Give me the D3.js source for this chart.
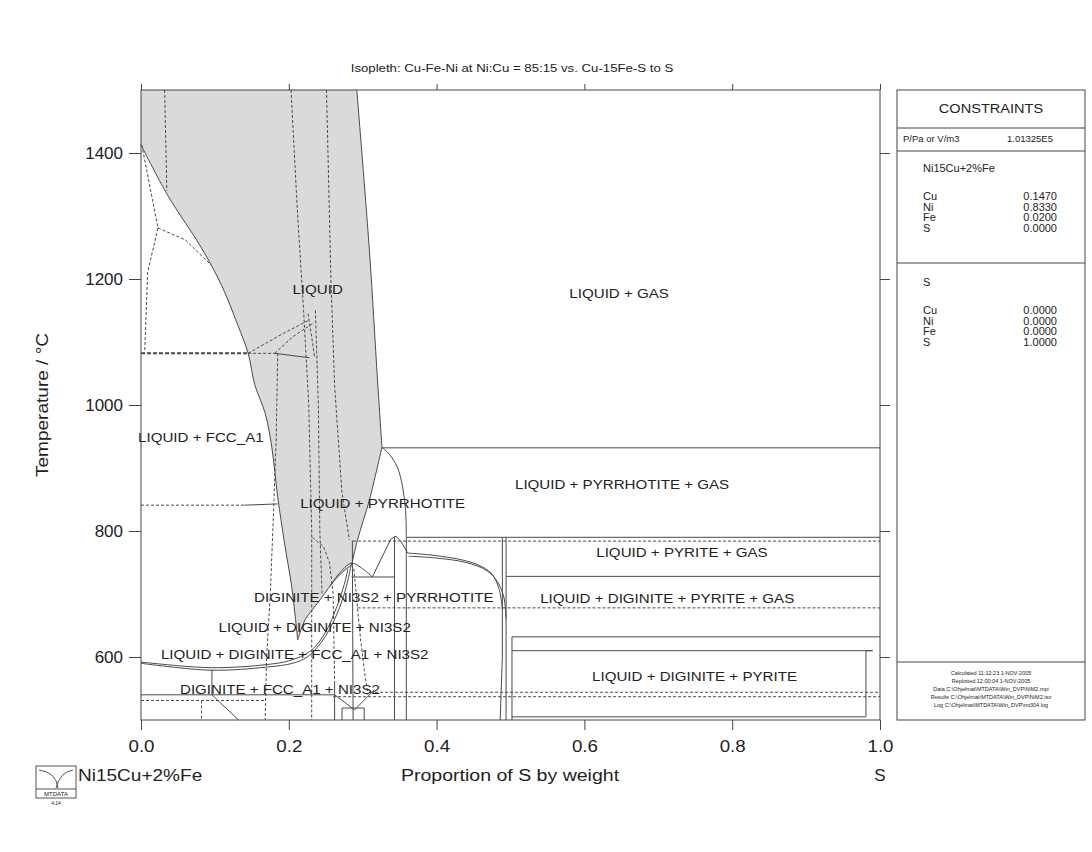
<!DOCTYPE html>
<html>
<head>
<meta charset="utf-8">
<script src="https://cdn.jsdelivr.net/npm/d3@7"></script>
<style>
  body { margin: 0; background: #fff; }
  text { font-family: "Liberation Sans", Arial, sans-serif; fill: #222; }
</style>
</head>
<body>
<svg width="1092" height="852"></svg>
<script>
const svg = d3.select('svg')

// ---- data (weight fraction S, temperature / C) ----
const xTicks = [0, 0.2, 0.4, 0.6, 0.8, 1.0]
const yTicks = [600, 800, 1000, 1200, 1400]

const liquidRegion = [[0,1500],[0,1413],[0.036,1333],[0.082,1249],[0.109,1190],[0.131,1127],[0.145,1082],
  [0.154,1032],[0.168,987],[0.177,933],[0.185,854],[0.195,775],[0.204,711],[0.212,627],[0.222,659],
  [0.232,675],[0.245,695],[0.262,722],[0.276,738],[0.285,746],[0.293,786],[0.309,849],[0.326,933],
  [0.320,1040],[0.309,1246],[0.292,1500]]

// smooth boundaries
const liquidus = [[0,1413],[0.036,1333],[0.082,1249],[0.109,1190],[0.131,1127],[0.145,1082],[0.154,1032],
  [0.168,987],[0.177,933],[0.185,854],[0.195,775],[0.204,711],[0.212,627]]
const liquidRight = [[0.292,1500],[0.309,1246],[0.320,1040],[0.326,933]]
const liquidLow = [[0.326,933],[0.309,849],[0.293,786],[0.285,746]]
const liquidBottom = [[0.285,746],[0.276,738],[0.262,722],[0.245,695],[0.232,675],[0.222,659],[0.212,627]]
const pyrrhotiteDome = [[0.326,933],[0.336,922],[0.347,901],[0.354,870],[0.358,833],[0.359,790]]
const peakOuter = [[0.361,765],[0.391,762],[0.435,754],[0.462,743],[0.476,730],[0.485,706],[0.489,675]]
const peakInner = [[0.362,760],[0.40,757],[0.44,750],[0.468,737],[0.482,720],[0.491,695],[0.494,660]]
const ni3s2Dome = [[0.255,711],[0.27,735],[0.285,749],[0.30,740],[0.313,727]]
const solidus600a = [[0,590],[0.095,579],[0.17,584],[0.205,590],[0.225,600],[0.245,625],[0.262,660],[0.275,700],[0.285,749]]
const solidus600b = [[0,592],[0.095,583],[0.17,588],[0.2,594],[0.23,610],[0.25,640],[0.265,680],[0.275,715],[0.28,740]]
const curvedLines = [liquidus, liquidRight, liquidLow, liquidBottom, pyrrhotiteDome, peakOuter, peakInner,
  ni3s2Dome, solidus600a, solidus600b]

// straight boundaries
const domeDrop = [[0.359,790],[0.359,500]]
const gasLine = [[0.326,932],[1,932]]
const pyrrhotiteLine = [[0.359,790],[1,790]]
const pyriteTop = [[0.494,728],[1,728]]
const pyriteMid = [[0.502,632],[1,632]]
const pyriteBox = [[0.502,610],[0.99,610],[0.981,610],[0.981,505],[0.502,505]]
const ni3s2Box = [[0.285,727],[0.343,727]]
const peak = [[0.313,727],[0.338,787],[0.345,792],[0.352,783],[0.361,765]]
const outerDrop = [[0.489,790],[0.489,600],[0.486,500]]
const innerDrop = [[0.494,790],[0.494,500]]
const peakDrop = [[0.343,791],[0.343,500]]
const pyriteEdge = [[0.502,632],[0.502,500]]
const darkDrop = [[0.286,785],[0.287,500]]
const fccStep = [[0.096,580],[0.096,540],[0.132,500]]
const line540 = [[0,540],[0.262,540]]
const clusterV = [[0.262,540],[0.289,516],[0.316,548]]
const clusterBox = [[0.272,500],[0.272,519],[0.302,519],[0.302,500]]
const cluster262 = [[0.262,560],[0.262,500]]
const line1082 = [[0.181,1082],[0.228,1075]]
const line841 = [[0.14,841],[0.185,843]]
const straightLines = [domeDrop, gasLine, pyrrhotiteLine, pyriteTop, pyriteMid, pyriteBox, ni3s2Box, peak,
  outerDrop, innerDrop, peakDrop, pyriteEdge, darkDrop, fccStep, line540, clusterV, clusterBox, cluster262,
  line1082, line841]

// dashed boundaries
const dashed784 = [[0.287,784],[1,784]]
const dashed678 = [[0.293,678],[1,678]]
const dashed544 = [[0.31,544],[1,544]]
const dashed537 = [[0.26,537],[1,537]]
const dashed531 = [[0,531],[0.168,531]]
const dashed082 = [[0.082,531],[0.082,500]]
const dashedSlant = [[0.185,1082],[0.183,950],[0.18,850],[0.175,700],[0.170,600],[0.168,500]]
const dashedV1 = [[0.203,1500],[0.212,1300],[0.220,1150],[0.227,1000],[0.231,800],[0.231,500]]
const dashedV2 = [[0.251,1500],[0.257,1200],[0.262,1030],[0.272,860],[0.282,786]]
const dashedV3 = [[0.232,790],[0.247,775],[0.255,750],[0.26,700],[0.262,560]]
const dashedV4 = [[0.288,740],[0.296,640],[0.302,580],[0.307,540]]
const dashedV5 = [[0.236,1150],[0.24,1000],[0.242,800],[0.245,700]]
const fccLeft = [[0.001,1413],[0.023,1281],[0.009,1211],[0.005,1084]]
const fccCurve = [[0.023,1281],[0.06,1262],[0.095,1222]]
const dashed1082 = [[0.145,1082],[0.181,1082]]
const knotA = [[0.145,1082],[0.19,1112],[0.228,1135]]
const knotB = [[0.181,1082],[0.205,1108],[0.233,1130]]
const knotC = [[0.226,1145],[0.232,1100],[0.235,1075]]
const dashed841 = [[0,841],[0.14,841]]
const dashedFaint = [[0.032,1500],[0.035,1340]]
const dashedLines = [dashed784, dashed678, dashed544, dashed537, dashed531, dashed082, dashedSlant,
  dashedV1, dashedV2, dashedV3, dashedV4, dashedV5, fccLeft, fccCurve, dashed1082, knotA, knotB, knotC,
  dashed841, dashedFaint]
const heavyDashed = [[[0,1082],[0.145,1082]]]

const regionLabels = [
  ['LIQUID', 0.239, 1184], ['LIQUID + GAS', 0.647, 1178], ['LIQUID + FCC_A1', 0.081, 949],
  ['LIQUID + PYRRHOTITE', 0.327, 844], ['LIQUID + PYRRHOTITE + GAS', 0.651, 875],
  ['LIQUID + PYRITE + GAS', 0.732, 767], ['LIQUID + DIGINITE + PYRITE + GAS', 0.712, 694],
  ['LIQUID + DIGINITE + PYRITE', 0.749, 570], ['DIGINITE + NI3S2 + PYRRHOTITE', 0.315, 695],
  ['LIQUID + DIGINITE + NI3S2', 0.235, 648], ['LIQUID + DIGINITE + FCC_A1 + NI3S2', 0.208, 605],
  ['DIGINITE + FCC_A1 + NI3S2', 0.188, 549]
]

const startElements = ['Cu', 'Ni', 'Fe', 'S']
const startAmounts = ['0.1470', '0.8330', '0.0200', '0.0000']
const endAmounts = ['0.0000', '0.0000', '0.0000', '1.0000']
const footer = ['Calculated 11:12:23  1-NOV-2005', 'Replotted 12:00:04  1-NOV-2005',
  'Data C:\\Ohjelmat\\MTDATA\\Win_DVP\\NiM2.mpi', 'Results C:\\Ohjelmat\\MTDATA\\Win_DVP\\NiM2.iso',
  'Log C:\\Ohjelmat\\MTDATA\\Win_DVP\\mt304.log']

// ---- scales ----
const x = d3.scaleLinear().domain([0, 1]).range([141, 880])
const y = d3.scaleLinear().domain([500, 1500]).range([720, 90])
const line = d3.line().x(d => x(d[0])).y(d => y(d[1]))
const smooth = d3.line().x(d => x(d[0])).y(d => y(d[1])).curve(d3.curveCatmullRom)

// text drawn slightly wider than the font, like the original plot
const widen = (sel, sx, rot) => sel.each(function () {
  const t = d3.select(this)
  const x0 = +t.attr('x') || 0, y0 = +t.attr('y') || 0
  t.attr('x', 0).attr('y', 0)
   .attr('transform', `translate(${x0},${y0})${rot ? ' rotate(' + rot + ')' : ''} scale(${sx},1)`)
})

const plot = svg.append('g')

plot.append('path')
    .attr('d', line(liquidRegion) + 'Z')
    .attr('fill', '#dadada')

const drawLines = (data, gen, dash, width) => plot.append('g').selectAll('path').data(data)
  .enter().append('path')
    .attr('d', gen)
    .attr('fill', 'none')
    .attr('stroke', '#4a4a4a')
    .attr('stroke-width', width)
    .attr('stroke-dasharray', dash)

drawLines(curvedLines, smooth, null, 1)
drawLines(straightLines, line, null, 1)
drawLines(dashedLines, line, '3,2', 1)
drawLines(heavyDashed, line, '4,2', 2)

plot.selectAll('text.region').data(regionLabels).enter().append('text')
    .attr('class', 'region')
    .attr('x', d => x(d[1]))
    .attr('y', d => y(d[2]) + 5)
    .attr('text-anchor', 'middle')
    .style('font-size', '13.5px')
    .text(d => d[0])
    .call(widen, 1.12)

// ---- axes ----
const styleAxis = g => {
  g.select('.domain').remove()
  g.selectAll('line').attr('stroke', '#444')
  g.selectAll('text').style('font-size', '17px').attr('fill', '#222')
}
svg.append('g').attr('transform', 'translate(141,0)')
    .call(d3.axisLeft(y).tickValues(yTicks).tickSize(12).tickPadding(6).tickFormat(d3.format('d'))).call(styleAxis)
svg.append('g').attr('transform', 'translate(880,0)')
    .call(d3.axisRight(y).tickValues(yTicks).tickSize(10).tickFormat('')).call(styleAxis)
const xAxis = svg.append('g').attr('transform', 'translate(0,720)')
    .call(d3.axisBottom(x).tickValues(xTicks).tickSize(10).tickPadding(8).tickFormat(d3.format('.1f'))).call(styleAxis)
xAxis.selectAll('text').attr('y', 32).attr('dy', null).call(widen, 1.1)
svg.append('g').attr('transform', 'translate(0,90)')
    .call(d3.axisTop(x).tickValues(xTicks).tickSize(6).tickFormat('')).call(styleAxis)

svg.append('rect')
    .attr('x', 141).attr('y', 90).attr('width', 739).attr('height', 630)
    .attr('fill', 'none').attr('stroke', '#444')

svg.append('text').attr('x', 512).attr('y', 72).attr('text-anchor', 'middle')
    .style('font-size', '11.5px').text('Isopleth: Cu-Fe-Ni at Ni:Cu = 85:15 vs. Cu-15Fe-S to S')
    .call(widen, 1.15)
svg.append('text').attr('x', 48).attr('y', 405).attr('text-anchor', 'middle')
    .style('font-size', '17px').text('Temperature / °C')
    .call(widen, 1.12, -90)
svg.append('text').attr('x', 510).attr('y', 781).attr('text-anchor', 'middle')
    .style('font-size', '17px').text('Proportion of S by weight')
    .call(widen, 1.15)

// logo
const logo = svg.append('g').attr('transform', 'translate(36,766)')
logo.append('rect').attr('width', 40).attr('height', 32).attr('fill', '#fff').attr('stroke', '#555')
logo.append('path').attr('d', 'M3,4 Q20,6 22,22 M37,4 Q24,6 20,22').attr('fill', 'none').attr('stroke', '#555')
logo.append('line').attr('x1', 0).attr('x2', 40).attr('y1', 23).attr('y2', 23).attr('stroke', '#555')
logo.append('text').attr('x', 20).attr('y', 30).attr('text-anchor', 'middle').style('font-size', '6px').text('MTDATA')
svg.append('text').attr('x', 56).attr('y', 805).attr('text-anchor', 'middle').style('font-size', '5px').text('4.14')

svg.append('text').attr('x', 78).attr('y', 781)
    .style('font-size', '17px').text('Ni15Cu+2%Fe')
    .call(widen, 1.12)
svg.append('text').attr('x', 880).attr('y', 781).attr('text-anchor', 'middle')
    .style('font-size', '17px').text('S')

// ---- constraints panel ----
const panel = svg.append('g')
panel.append('rect').attr('x', 897).attr('y', 90).attr('width', 188).attr('height', 630)
    .attr('fill', 'none').attr('stroke', '#444')
const sep = [128, 151, 263, 662]
panel.selectAll('line').data(sep).enter().append('line')
    .attr('x1', 897).attr('x2', 1085).attr('y1', d => d).attr('y2', d => d).attr('stroke', '#444')
panel.append('text').attr('x', 991).attr('y', 113).attr('text-anchor', 'middle').style('font-size', '13px')
    .text('CONSTRAINTS').call(widen, 1.12)
panel.append('text').attr('x', 903).attr('y', 142).style('font-size', '9.5px').text('P/Pa or V/m3')
panel.append('text').attr('x', 1053).attr('y', 142).attr('text-anchor', 'end').style('font-size', '9.5px').text('1.01325E5')

const block = (top, title, amounts) => {
  panel.append('text').attr('x', 923).attr('y', top).style('font-size', '11px').text(title)
  startElements.forEach((el, i) => {
    panel.append('text').attr('x', 923).attr('y', top + 28 + i * 10.5).style('font-size', '11px').text(el)
    panel.append('text').attr('x', 1057).attr('y', top + 28 + i * 10.5).attr('text-anchor', 'end')
        .style('font-size', '11px').text(amounts[i])
  })
}
block(172, 'Ni15Cu+2%Fe', startAmounts)
block(286, 'S', endAmounts)

panel.selectAll('text.foot').data(footer).enter().append('text')
    .attr('class', 'foot')
    .attr('x', 991).attr('y', (d, i) => 675 + i * 8)
    .attr('text-anchor', 'middle').style('font-size', '5.5px').text(d => d)
</script>
</body>
</html>
